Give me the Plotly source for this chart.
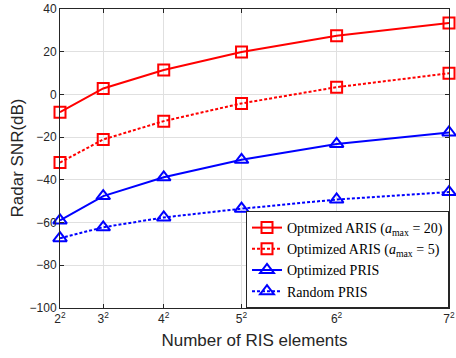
import plotly.graph_objects as go

n_elements = [4, 9, 16, 25, 36, 49]
tick_labels = ["2<sup>2</sup>", "3<sup>2</sup>", "4<sup>2</sup>", "5<sup>2</sup>", "6<sup>2</sup>", "7<sup>2</sup>"]
aris20 = [-8.3, 2.8, 11.4, 19.9, 27.5, 33.5]
aris5 = [-31.9, -21.1, -12.5, -4.2, 3.4, 9.9]
pris_opt = [-59.0, -47.6, -38.8, -30.6, -23.2, -17.8]
pris_rand = [-67.3, -62.2, -57.6, -53.5, -49.2, -45.7]

names = [
    "Optmized ARIS (<i>a</i><sub>max</sub> = 20)",
    "Optimized ARIS (<i>a</i><sub>max</sub> = 5)",
    "Optimized PRIS",
    "Random PRIS",
]

fig = go.Figure()
series = [
    (aris20, "red", "solid", "square-open", names[0]),
    (aris5, "red", "3px,2px", "square-open", names[1]),
    (pris_opt, "blue", "solid", "triangle-up-open", names[2]),
    (pris_rand, "blue", "3px,2px", "triangle-up-open", names[3]),
]
for ys, col, dash, sym, nm in series:
    fig.add_trace(go.Scatter(
        x=n_elements, y=ys, name=nm, mode="lines+markers",
        line=dict(color=col, width=2, dash=dash),
        marker=dict(symbol=sym, size=11 if "square" in sym else 12, color=col, line=dict(width=2, color=col)),
        cliponaxis=False,
    ))

axis_common = dict(
    showgrid=True, gridcolor="#e0e0e0", gridwidth=1,
    showline=True, linecolor="#262626", linewidth=1, mirror="ticks",
    ticks="inside", ticklen=4, tickcolor="#262626",
    zeroline=False, automargin=False,
    tickfont=dict(family="Liberation Sans, Arial", size=12, color="#262626"),
)

fig.update_xaxes(
    range=[4, 49], tickvals=n_elements, ticktext=tick_labels,
    title=dict(text="Number of RIS elements", font=dict(family="Liberation Sans, Arial", size=17, color="#262626"), standoff=8),
    **axis_common,
)
fig.update_yaxes(range=[-100, 40], dtick=20, **axis_common)

fig.add_annotation(
    text="Radar SNR(dB)", textangle=-90, showarrow=False,
    xref="paper", yref="paper", x=0, y=0.5, xanchor="center", yanchor="middle",
    xshift=-43, font=dict(family="Liberation Sans, Arial", size=17, color="#262626"),
)

fig.update_layout(
    width=456, height=358,
    margin=dict(l=60, r=7, t=9, b=50),
    paper_bgcolor="white", plot_bgcolor="white",
    legend=dict(
        x=1, y=0, xanchor="right", yanchor="bottom",
        bgcolor="white", bordercolor="#262626", borderwidth=1,
        font=dict(family="Liberation Serif, Times New Roman", size=14, color="black"),
        tracegroupgap=0, itemwidth=30,
    ),
    showlegend=True,
)

fig.write_html("out.html", config={"displayModeBar": False},
               post_script="document.body.style.margin='0';")
